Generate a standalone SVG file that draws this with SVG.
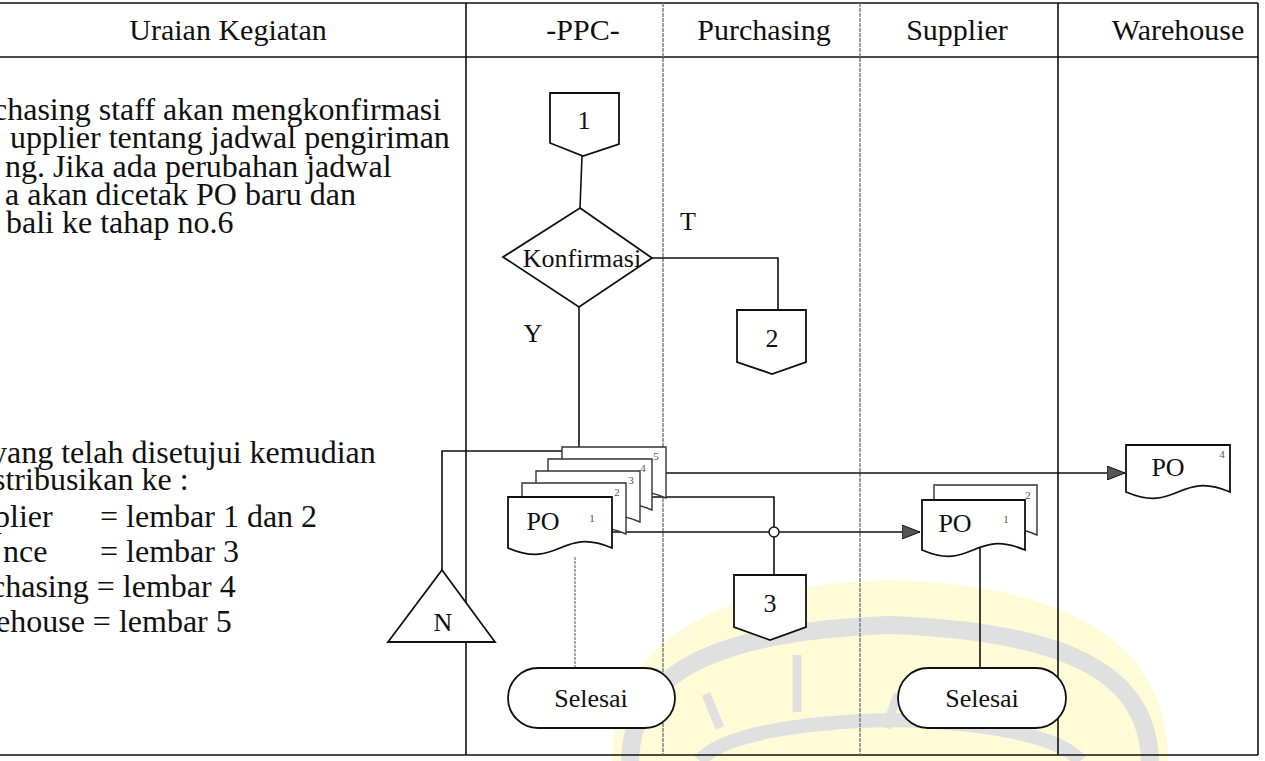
<svg xmlns="http://www.w3.org/2000/svg" width="1265" height="761" viewBox="0 0 1265 761">
<style>
text{font-family:"Liberation Serif","Times New Roman",serif;fill:#111}
.hd{font-size:30px;text-anchor:middle}
.bd{font-size:32px}
.lb{font-size:26px;text-anchor:middle}
.sm{font-size:11px;fill:#555;text-anchor:middle}
.ln{fill:none;stroke:#111;stroke-width:1.6}
.shape{fill:#fff;stroke:#111;stroke-width:1.8}
.back{fill:#fff;stroke:#333;stroke-width:1.4}
.grid{stroke:#111;stroke-width:1.6}
.gridg{stroke:#777;stroke-width:1.4;stroke-dasharray:4 1}
.dot{fill:none;stroke:#888;stroke-width:1.4;stroke-dasharray:3 1}
.wm{fill:none;stroke:#e0e0e0}
</style>
<defs>
<marker id="arr" viewBox="0 0 18 14" refX="18" refY="7" markerWidth="18" markerHeight="14" markerUnits="userSpaceOnUse" orient="auto">
<path d="M0,0 L18,7 L0,14 Z" fill="#555" stroke="#111" stroke-width="1"/>
</marker>
</defs>
<rect width="1265" height="761" fill="#fff"/>
<g id="watermark">
<path d="M612,761 C612,650 700,585 890,580 C1080,585 1168,650 1168,761 Z" fill="#fffbd6"/>
<path class="wm" d="M630,761 C632,680 700,632 890,625 C1080,632 1148,680 1150,761" stroke-width="18"/>
<path class="wm" d="M700,761 C720,735 800,722 890,720 C980,722 1060,735 1080,761" stroke-width="14"/>
<path class="wm" d="M797,655 V712" stroke-width="9"/>
<path class="wm" d="M706,694 L720,728" stroke-width="9"/>
<path class="wm" d="M898,694 L886,728" stroke-width="9"/>
</g>
<g id="table">
<line class="grid" x1="0" y1="3" x2="1258" y2="3"/>
<line class="grid" x1="0" y1="57" x2="1258" y2="57"/>
<line class="grid" x1="0" y1="755" x2="1258" y2="755"/>
<line class="grid" x1="466" y1="3" x2="466" y2="755"/>
<line class="gridg" x1="663" y1="3" x2="663" y2="755"/>
<line class="gridg" x1="860" y1="3" x2="860" y2="755"/>
<line class="grid" x1="1058" y1="3" x2="1058" y2="755"/>
<line class="grid" x1="1258" y1="3" x2="1258" y2="755"/>
<text class="hd" x="228" y="40">Uraian Kegiatan</text>
<text class="hd" x="583" y="40">-PPC-</text>
<text class="hd" x="764" y="40">Purchasing</text>
<text class="hd" x="957" y="40">Supplier</text>
<text class="hd" x="1178" y="40">Warehouse</text>
</g>
<g id="description">
<text class="bd" x="-7" y="120">chasing staff akan mengkonfirmasi</text>
<text class="bd" x="10" y="148">upplier tentang jadwal pengiriman</text>
<text class="bd" x="5" y="177">ng. Jika ada perubahan jadwal</text>
<text class="bd" x="5" y="205">a akan dicetak PO baru dan</text>
<text class="bd" x="6" y="233">bali ke tahap no.6</text>
<text class="bd" x="-9" y="463">yang telah disetujui kemudian</text>
<text class="bd" x="-7" y="490">stribusikan ke :</text>
<text class="bd" y="527"><tspan x="-6">plier</tspan><tspan x="100">= lembar 1 dan 2</tspan></text>
<text class="bd" y="562"><tspan x="3">nce</tspan><tspan x="100">= lembar 3</tspan></text>
<text class="bd" x="-9" y="597">chasing = lembar 4</text>
<text class="bd" x="-4" y="632">ehouse = lembar 5</text>
</g>
<g id="connectors">
<path class="ln" d="M582,156 L580,208"/>
<path class="ln" d="M579,307 V447"/>
<path class="ln" d="M652,258 H778 V310"/>
<path class="ln" d="M442,570 V451 H570"/>
<path class="ln" d="M652,473 H1125" marker-end="url(#arr)"/>
<path class="ln" d="M626,497 H774 V527"/>
<path class="ln" d="M612,532 H920" marker-end="url(#arr)"/>
<path class="ln" d="M774,537 V575"/>
<path class="dot" d="M575,557 V668"/>
<path class="ln" d="M980,547 V668"/>
<circle cx="774" cy="532" r="5" fill="#fff" stroke="#111" stroke-width="1.4"/>
<text class="lb" x="688" y="230">T</text>
<text class="lb" x="533" y="342">Y</text>
</g>
<g id="conn1">
<path class="shape" d="M550,93 H619 V144 L583,156 L550,143 Z"/>
<text class="lb" x="584" y="129">1</text>
</g>
<g id="decision">
<path class="shape" d="M580,208 L652,258 L579,307 L503,257 Z"/>
<text class="lb" x="582" y="267" font-size="27">Konfirmasi</text>
</g>
<g id="conn2">
<path class="shape" d="M737,310 H806 V362 L772,374 L737,362 Z"/>
<text class="lb" x="772" y="347">2</text>
</g>
<g id="po-stack">
<path class="back" d="M562,447 H666 V498 C614,476 614,520 562,498 Z"/>
<text class="sm" x="656" y="460">5</text>
<path class="back" d="M548,459 H652 V510 C600,488 600,532 548,510 Z"/>
<text class="sm" x="643" y="472">4</text>
<path class="back" d="M536,471 H640 V522 C588,500 588,544 536,522 Z"/>
<text class="sm" x="631" y="484">3</text>
<path class="back" d="M522,483 H626 V534 C574,512 574,556 522,534 Z"/>
<text class="sm" x="617" y="496">2</text>
<path class="shape" d="M508,497 H612 V548 C560,526 560,570 508,548 Z"/>
<text class="lb" x="543" y="530">PO</text>
<text class="sm" x="592" y="522">1</text>
</g>
<g id="offpage-n">
<path class="shape" d="M442,570 L495,642 L388,642 Z"/>
<text class="lb" x="443" y="631">N</text>
</g>
<g id="conn3">
<path class="shape" d="M734,575 H806 V627 L770,640 L734,627 Z"/>
<text class="lb" x="770" y="612">3</text>
</g>
<g id="selesai-ppc">
<rect class="shape" x="508" y="668" width="167" height="60" rx="30"/>
<text class="lb" x="591" y="707">Selesai</text>
</g>
<g id="po-supplier">
<path class="back" d="M934,485 H1037 V535 C985,513 985,557 934,535 Z"/>
<text class="sm" x="1028" y="499">2</text>
<path class="shape" d="M922,500 H1025 V550 C973,528 973,572 922,550 Z"/>
<text class="lb" x="955" y="532">PO</text>
<text class="sm" x="1006" y="523">1</text>
</g>
<g id="selesai-supplier">
<rect class="shape" x="898" y="668" width="168" height="60" rx="30"/>
<text class="lb" x="982" y="707">Selesai</text>
</g>
<g id="po-warehouse">
<path class="shape" d="M1126,445 H1230 V492 C1178,470 1178,514 1126,492 Z"/>
<text class="lb" x="1168" y="476">PO</text>
<text class="sm" x="1222" y="458">4</text>
</g>
</svg>
